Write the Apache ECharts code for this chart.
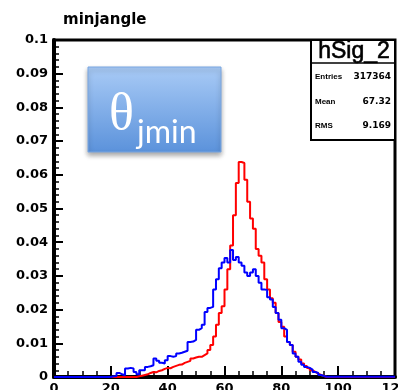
<!DOCTYPE html>
<html><head><meta charset="utf-8">
<script src="https://cdn.jsdelivr.net/npm/echarts@6/dist/echarts.min.js"></script>
<style>html,body{margin:0;padding:0;background:#fff}#c{width:398px;height:390px}</style>
</head><body><div id="c"></div>
<script>
// Histogram bins: low edges 0..119, width 1
const binWidth = 1;
const xTicks = [0, 20, 40, 60, 80, 100, 120];
const redValues = [
 0,0,0,0,0,0,0,0,0,0, 0,0,0,0,0,0,0,0,0,0, 0,0,0,0,0,0,0,0,0,0.0002,
 0.0004,0.0006,0.0008,0.0012,0.0015,0.0014,0.0018,0.002,0.0024,0.0027,
 0.0026,0.003,0.0033,0.0036,0.0037,0.0042,0.0045,0.0048,0.0055,0.0058,
 0.006,0.006,0.0065,0.007,0.008,0.0095,0.012,0.0155,0.019,0.021,
 0.026,0.032,0.039,0.048,0.0576,0.0638,0.0635,0.0585,0.052,0.047,
 0.044,0.038,0.036,0.034,0.029,0.026,0.0234,0.022,0.019,0.0163,
 0.0149,0.012,0.0104,0.0095,0.0075,0.006,0.0052,0.004,0.0033,0.0027,
 0.002,0.0015,0.001,0.0006,0.0003,0,0,0,0,0,
 0,0,0,0,0,0,0,0,0,0, 0,0,0,0,0,0,0,0,0,0
];
const blueValues = [
 0,0,0,0,0,0,0,0,0,0, 0,0,0,0,0,0,0,0,0,0,
 0.0002,0.0003,0.0012,0.0008,0.0005,0.0025,0.0027,0.0025,0.0015,0.0008,
 0.002,0.002,0.003,0.0032,0.0035,0.0055,0.0048,0.0042,0.004,0.005,
 0.0062,0.006,0.0062,0.007,0.0072,0.0075,0.0078,0.0104,0.0105,0.011,
 0.014,0.0145,0.0155,0.0193,0.0205,0.0208,0.026,0.029,0.0323,0.034,
 0.0353,0.034,0.0377,0.0347,0.0356,0.034,0.033,0.031,0.030,0.031,
 0.032,0.030,0.028,0.026,0.0258,0.0237,0.023,0.0208,0.019,0.017,
 0.0145,0.014,0.0104,0.0095,0.007,0.006,0.0045,0.0036,0.003,0.0027,
 0.0022,0.0015,0.0012,0.0006,0.0003,0.0001,0.0001,0.0001,0.0001,0.0001,
 0.0001,0.0001,0.0001,0.0001,0.0001,0.0001,0.0001,0.0001,0.0001,0.0001,
 0.0001,0.0001,0.0001,0.0001,0.0001,0.0001,0.0001,0.0001,0.0001,0.0001
];
const statsTitle = 'hSig_2';
const statsRows = [['Entries', '317364'], ['Mean', '67.32'], ['RMS', '9.169']];
const chartTitle = 'minjangle';

function toSteps(vals) {
  const pts = vals.map((v, i) => [i * binWidth, v]);
  pts.push([vals.length * binWidth, vals[vals.length - 1]]);
  return pts;
}

const chart = echarts.init(document.getElementById('c'), null, {renderer: 'canvas'});
const F = 'Liberation Sans, Arial, sans-serif';
const D = 'DejaVu Sans, sans-serif';
const statsGraphics = [
  {type: 'rect', shape: {x: 311, y: 40, width: 84, height: 100}, style: {fill: '#fff', stroke: '#000', lineWidth: 2}, z: 10},
  {type: 'line', shape: {x1: 311, y1: 63, x2: 395, y2: 63}, style: {stroke: '#000', lineWidth: 1.5}, z: 11},
  {type: 'text', x: 354, y: 52, style: {text: statsTitle, font: '23px ' + F, fill: '#000', align: 'center', verticalAlign: 'middle', stroke: '#000', lineWidth: 0.6}, z: 11}
];
statsRows.forEach((r, i) => {
  const y = 77 + i * 24.5;
  statsGraphics.push({type: 'text', x: 315, y: y, style: {text: r[0], font: 'bold 8px ' + F, fill: '#000', align: 'left', verticalAlign: 'middle'}, z: 11});
  statsGraphics.push({type: 'text', x: 391, y: y, style: {text: r[1], font: 'bold 9px ' + D, fill: '#000', align: 'right', verticalAlign: 'middle'}, z: 11});
});

chart.setOption({
  animation: false,
  title: {text: chartTitle, left: 58, top: 8, textStyle: {fontSize: 15, fontWeight: 'bold', fontFamily: D, color: '#000'}},
  grid: {left: 54, right: 3, top: 40, bottom: 13, outerBoundsMode: 'none', containLabel: false,
    show: true, borderColor: '#000', borderWidth: 3, backgroundColor: 'transparent'},
  xAxis: {
    type: 'value', min: xTicks[0], max: xTicks[xTicks.length - 1], interval: xTicks[1] - xTicks[0],
    axisLine: {onZero: false, lineStyle: {color: '#000', width: 4}},
    axisTick: {inside: true, length: 11, lineStyle: {color: '#000', width: 2}},
    minorTick: {show: true, splitNumber: 4, length: 6, lineStyle: {color: '#000', width: 1.5}},
    splitLine: {show: false},
    axisLabel: {margin: 5, color: '#000', fontSize: 13, fontWeight: 'bold', fontFamily: D, hideOverlap: false}
  },
  yAxis: {
    type: 'value', min: 0, max: 0.1, interval: 0.01,
    axisLine: {onZero: false, lineStyle: {color: '#000', width: 4}},
    axisTick: {inside: true, length: 9, lineStyle: {color: '#000', width: 2}},
    minorTick: {show: true, splitNumber: 5, length: 5, lineStyle: {color: '#000', width: 1.5}},
    splitLine: {show: false},
    axisLabel: {margin: 6, color: '#000', fontSize: 13, fontWeight: 'bold', fontFamily: D,
      formatter: v => String(+v.toFixed(3))}
  },
  series: [
    {type: 'line', step: 'end', data: toSteps(redValues), symbol: 'none', lineStyle: {color: '#ff0000', width: 2}, z: 3},
    {type: 'line', step: 'end', data: toSteps(blueValues), symbol: 'none', lineStyle: {color: '#0000ff', width: 2}, z: 4}
  ],
  graphic: [
    {type: 'rect', shape: {x: 88, y: 67, width: 133, height: 85},
      style: {fill: new echarts.graphic.LinearGradient(0, 0, 0, 1, [{offset: 0, color: '#a9cbf6'}, {offset: 1, color: '#5b92db'}]),
        stroke: '#78a6e2', lineWidth: 1, shadowBlur: 5, shadowOffsetY: 3, shadowColor: 'rgba(0,0,0,0.35)'}, z: 10},
    {type: 'text', x: 109, y: 115, style: {text: 'θ', font: '52px Liberation Serif, serif', fill: '#fff', align: 'left', verticalAlign: 'middle'}, z: 11},
    {type: 'text', x: 137, y: 133, style: {text: 'jmin', font: '32px Lato, sans-serif', fill: '#fff', align: 'left', verticalAlign: 'middle'}, z: 11}
  ].concat(statsGraphics)
});
</script>
</body></html>
